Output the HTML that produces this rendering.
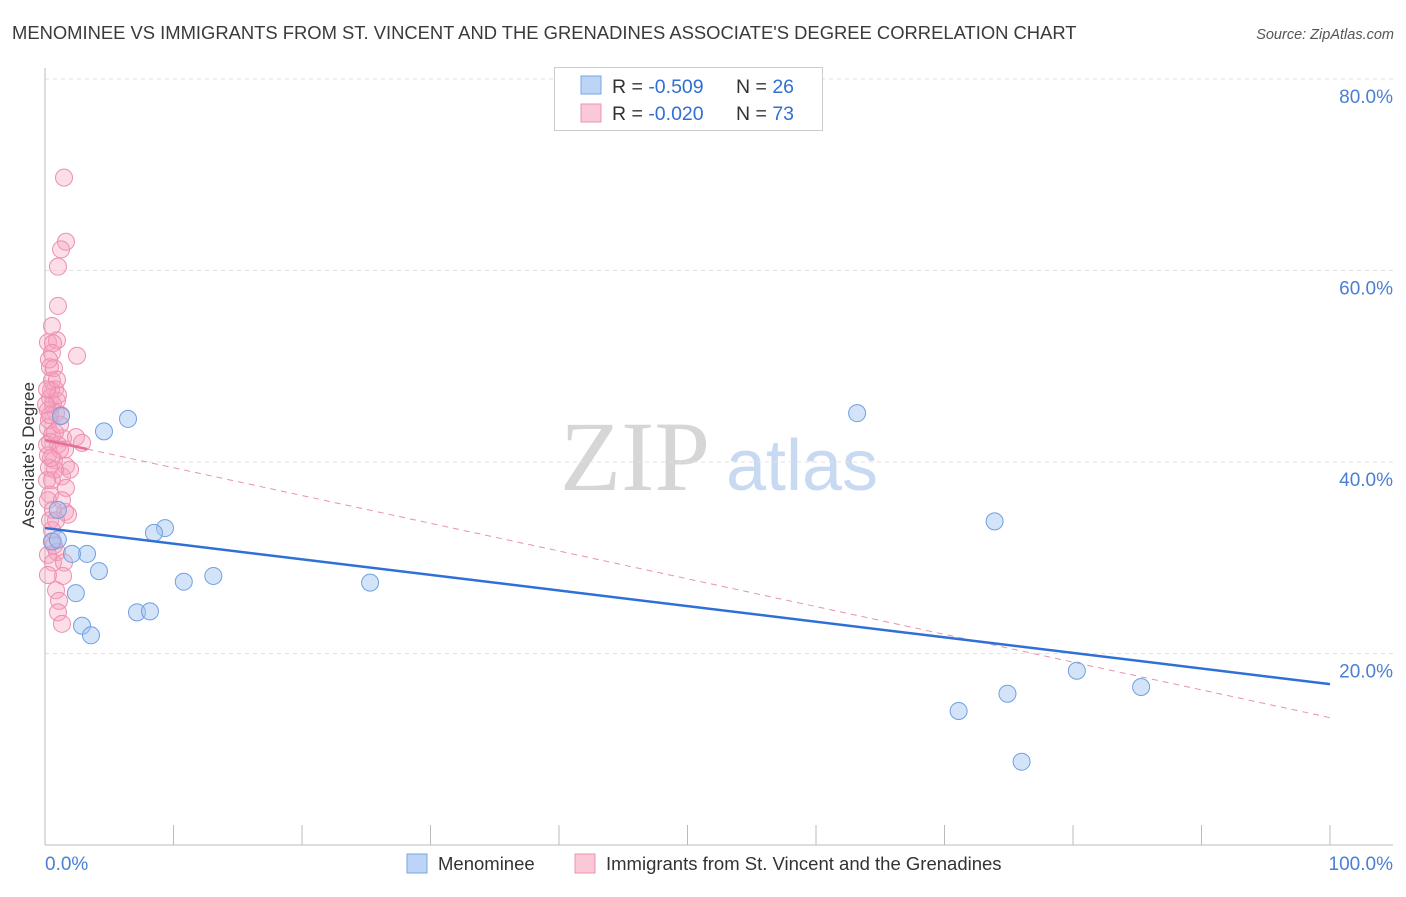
<!DOCTYPE html>
<html><head><meta charset="utf-8">
<style>
body{margin:0;background:#fff;font-family:"Liberation Sans",sans-serif;}
</style></head>
<body>
<svg id="chart" width="1406" height="892" xmlns="http://www.w3.org/2000/svg" font-family="Liberation Sans, sans-serif">
<text x="12" y="39" font-size="18.4" fill="#3a3a3a">MENOMINEE VS IMMIGRANTS FROM ST. VINCENT AND THE GRENADINES ASSOCIATE'S DEGREE CORRELATION CHART</text>
<text x="1394" y="39" font-size="14.5" fill="#555" font-style="italic" text-anchor="end">Source: ZipAtlas.com</text>
<g>
<text x="635" y="490" font-size="100" fill="#d6d6d6" style="font-family:'Liberation Serif',serif" text-anchor="middle">ZIP</text>
<text x="802" y="490" font-size="72" fill="#c8daf2" text-anchor="middle">atlas</text>
</g>
<g id="grid"></g>
<g id="axes"></g>
<g id="marks"></g>
<g id="trends"></g>
<text transform="translate(34,455) rotate(-90)" font-size="17" fill="#333" text-anchor="middle">Associate's Degree</text>
<g>
<rect x="554.5" y="67.5" width="268" height="63" fill="#fff" stroke="#ccc"/>
<rect x="581" y="76" width="20" height="18" fill="#bcd4f5" stroke="#7aa6e3"/>
<rect x="581" y="104" width="20" height="18" fill="#fbc8d8" stroke="#ec93b0"/>
<text x="612" y="93" font-size="19.5" fill="#333">R = <tspan fill="#2f6fd6">-0.509</tspan></text>
<text x="736" y="93" font-size="19.5" fill="#333">N = <tspan fill="#2f6fd6">26</tspan></text>
<text x="612" y="120" font-size="19.5" fill="#333">R = <tspan fill="#2f6fd6">-0.020</tspan></text>
<text x="736" y="120" font-size="19.5" fill="#333">N = <tspan fill="#2f6fd6">73</tspan></text>
</g>
<g>
<rect x="407" y="854" width="20" height="19" fill="#bcd4f5" stroke="#7aa6e3"/>
<text x="438" y="870" font-size="18.5" fill="#333">Menominee</text>
<rect x="575" y="854" width="20" height="19" fill="#fbc8d8" stroke="#ec93b0"/>
<text x="606" y="870" font-size="18.5" fill="#333">Immigrants from St. Vincent and the Grenadines</text>
</g>
</svg>
<script>
const yTicks=[20,40,60,80];
const yTickLabels=["20.0%","40.0%","60.0%","80.0%"];
const xTicks=[0,10,20,30,40,50,60,70,80,90,100];
const blueX=[1.25,6.46,4.59,63.2,1.0,73.9,9.34,8.48,0.54,1.0,3.27,2.1,4.2,13.1,10.8,25.3,2.4,7.16,8.17,2.88,3.58,80.3,85.3,74.9,71.1,76.0];
const blueY=[44.8,44.5,43.2,45.1,35.0,33.8,33.1,32.6,31.7,31.9,30.4,30.4,28.6,28.1,27.5,27.4,26.3,24.3,24.4,22.9,21.9,18.2,16.5,15.8,14.0,8.7];
const pinkX=[1.48,1.63,1.25,1.01,1.01,0.54,0.23,0.93,0.62,2.49,0.54,0.39,0.7,0.54,0.78,0.39,0.93,0.62,0.23,0.86,1.25,0.23,0.54,1.4,2.41,2.88,0.39,1.01,1.56,0.23,0.7,1.63,0.31,1.32,0.54,1.63,0.39,1.56,1.79,0.54,0.62,0.93,0.23,0.62,1.48,1.4,0.86,1.09,1.01,1.32,0.39,0.23,0.78,0.16,0.31,0.78,1.17,0.47,1.01,0.31,0.16,0.62,1.17,1.95,0.23,0.7,0.39,0.93,0.08,1.32,0.47,0.86,0.16];
const pinkY=[69.7,63.0,62.2,60.4,56.3,54.2,52.5,52.7,52.4,51.1,51.4,49.9,49.8,48.5,47.6,46.7,46.4,46.0,45.4,45.1,44.9,43.6,42.8,42.5,42.6,42.0,42.1,41.8,41.3,40.7,40.2,39.6,39.4,38.5,38.1,37.3,36.6,34.8,34.5,32.9,31.7,30.6,30.3,29.5,29.5,28.1,26.6,25.5,24.3,23.1,33.9,36.0,39.2,41.8,44.4,43.1,43.9,47.5,47.0,50.7,38.1,35.0,41.3,39.2,28.2,31.3,44.9,48.6,46.0,36.0,40.4,33.9,47.6];
const blueTrend=[33.1,16.8];
const pinkTrend=[42.3,13.3];
const NS="http://www.w3.org/2000/svg";
const X0=45,X1=1330,Y0=845,PY=9.575;
const xs=v=>X0+(X1-X0)*v/100;
const ys=v=>Y0-v*PY;
function mk(t,a,p){const e=document.createElementNS(NS,t);for(const k in a)e.setAttribute(k,a[k]);p.appendChild(e);return e;}
const grid=document.getElementById('grid'),axes=document.getElementById('axes'),marks=document.getElementById('marks'),trends=document.getElementById('trends');
yTicks.forEach((t,i)=>{
 const l=mk('line',{x1:X0,x2:1393,y1:ys(t),y2:ys(t),stroke:'#e2e2e2','stroke-dasharray':'4,4'},grid);
 
 
 const tx=mk('text',{x:1393,y:ys(t)+24,'font-size':19,fill:'#4a7fd4','text-anchor':'end'},axes);
 tx.textContent=yTickLabels[i];
 
 
});
mk('line',{x1:X0,x2:X0,y1:68,y2:Y0,stroke:'#bbb'},axes);
mk('line',{x1:X0,x2:1393,y1:Y0,y2:Y0,stroke:'#bbb'},axes);
xTicks.forEach(t=>{const l=mk('line',{x1:xs(t),x2:xs(t),y1:Y0-20,y2:Y0,stroke:'#bbb'},axes);
 
 });
const xl0=mk('text',{x:45,y:870,'font-size':19,fill:'#4a7fd4'},axes);xl0.textContent='0.0%';


const xl1=mk('text',{x:1393,y:870,'font-size':19,fill:'#4a7fd4','text-anchor':'end'},axes);xl1.textContent='100.0%';


pinkX.forEach((x,i)=>{const c=mk('circle',{cx:xs(x),cy:ys(pinkY[i]),r:8.5,fill:'rgba(246,160,190,0.35)',stroke:'#ec8fae','stroke-width':1},marks);
 
 });
blueX.forEach((x,i)=>{const c=mk('circle',{cx:xs(x),cy:ys(blueY[i]),r:8.5,fill:'rgba(160,196,240,0.45)',stroke:'#6f9fe2','stroke-width':1},marks);
 
 });
const cut=3.3;
const pm=pinkTrend[0]+(pinkTrend[1]-pinkTrend[0])*cut/100;
const ps=mk('line',{x1:xs(0),y1:ys(pinkTrend[0]),x2:xs(cut),y2:ys(pm),stroke:'#e56f96','stroke-width':2.5},trends);


const pd=mk('line',{x1:xs(cut),y1:ys(pm),x2:xs(100),y2:ys(pinkTrend[1]),stroke:'#e693ad','stroke-width':1,'stroke-dasharray':'6,5'},trends);


const bt=mk('line',{x1:xs(0),y1:ys(blueTrend[0]),x2:xs(100),y2:ys(blueTrend[1]),stroke:'#2f6fd6','stroke-width':2.5},trends);


</script>
</body></html>
